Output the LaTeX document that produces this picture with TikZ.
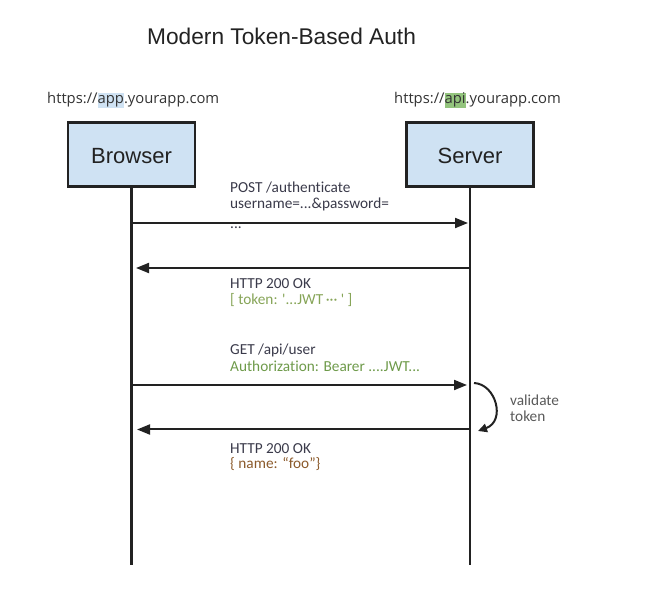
\documentclass[tikz,border=0pt]{standalone}
\usepackage{fontspec}
\setmainfont{Liberation Sans}
\newfontfamily\carlito[Ligatures=NoCommon]{Carlito}
\newfontfamily\opensans{Open Sans}
\usetikzlibrary{arrows.meta}
\definecolor{boxfill}{HTML}{CFE2F3}
\definecolor{hlblue}{HTML}{CFE2F3}
\definecolor{hlgreen}{HTML}{93C47D}
\definecolor{ink}{HTML}{222222}
\definecolor{msgdark}{HTML}{3A3A4A}
\definecolor{tokgreen}{HTML}{86A457}
\definecolor{authgreen}{HTML}{6E9A4A}
\definecolor{foobrown}{HTML}{8B5A2B}
\newcommand\hlword[2]{{\setlength{\fboxsep}{0pt}\colorbox{#1}{\rule[-0.27em]{0pt}{1.03em}#2}}}
\begin{document}
\begin{tikzpicture}[x=1pt,y=-1pt,
  actor/.style={draw=ink, line width=2.6pt, fill=boxfill, minimum width=127pt, minimum height=64.5pt, inner sep=0pt, text height=19pt, text depth=0pt, font=\fontsize{22}{22}\selectfont, text=ink},
  lifeline/.style={draw=ink, line width=2.4pt},
  msg/.style={draw=ink, line width=2pt, -{Triangle[length=13pt,width=10pt]}},
  selfmsg/.style={draw=ink, line width=2pt, -{Triangle[length=9pt,width=8.5pt]}},
  lbl/.style={anchor=base west, inner sep=0pt, font=\carlito\fontsize{15.3}{15.3}\selectfont, text=msgdark},
  url/.style={anchor=base west, inner sep=0pt, font=\opensans\fontsize{14.8}{14.8}\selectfont, text=black!80},
  titlestyle/.style={anchor=base west, inner sep=0pt, font=\fontsize{22.7}{22.7}\selectfont, text=ink}
]
\useasboundingbox (0,0) rectangle (662,601);

% title
\node[titlestyle] (title) at (147,45) {Modern Token-Based Auth};

% urls
\node[url] (urlb) at (47,104) {https://\hlword{hlblue}{app}.yourapp.com};
\node[url] (urls) at (394,104) {https://\hlword{hlgreen}{api}.yourapp.com};

% actors
\node[actor] (browser) at (131.5,154.5) {Browser};
\node[actor] (server) at (470,154.5) {Server};

% lifelines
\coordinate (bend) at (131.5,565);
\coordinate (send) at (470,565);
\draw[lifeline] (browser.south) -- (bend);
\draw[lifeline] (server.south) -- (send);

% message anchor points
\coordinate (b1) at (132.5,223);
\coordinate (s1) at (468,223);
\coordinate (s2) at (469,268);
\coordinate (b2) at (136,268);
\coordinate (b3) at (132.5,385);
\coordinate (s3) at (467,385);
\coordinate (s4) at (469,429.5);
\coordinate (b4) at (137,429.5);
\coordinate (v1) at (474,383);
\coordinate (v2) at (478,431);

% messages
\draw[msg] (b1) -- (s1);
\draw[msg] (s2) -- (b2);
\draw[msg] (b3) -- (s3);
\draw[msg] (s4) -- (b4);
\draw[selfmsg] (v1) .. controls (496,384) and (506,421) .. (v2);

% labels
\node[lbl] (m1a) at (230,193) {POST /authenticate};
\node[lbl] (m1b) at (230,208.5) {username=...\&password=};
\node[lbl] (m1c) at (230,229) {...};

\node[lbl] (m2a) at (230,289) {HTTP 200 OK};
\node[lbl, text=tokgreen] (m2b) at (230,304.5) {[ token: '...JWT\,··· ' ]};

\node[lbl] (m3a) at (230,355) {GET /api/user};
\node[lbl, text=authgreen] (m3b) at (230,372) {Authorization: Bearer ....JWT...};

\node[lbl] (m4a) at (230,453.5) {HTTP 200 OK};
\node[lbl, text=foobrown] (m4b) at (230,469) {\{ name: “foo”\}};

\node[lbl, text=black!65] (val1) at (510,406) {validate};
\node[lbl, text=black!65] (val2) at (510,422) {token};
\end{tikzpicture}
\end{document}
